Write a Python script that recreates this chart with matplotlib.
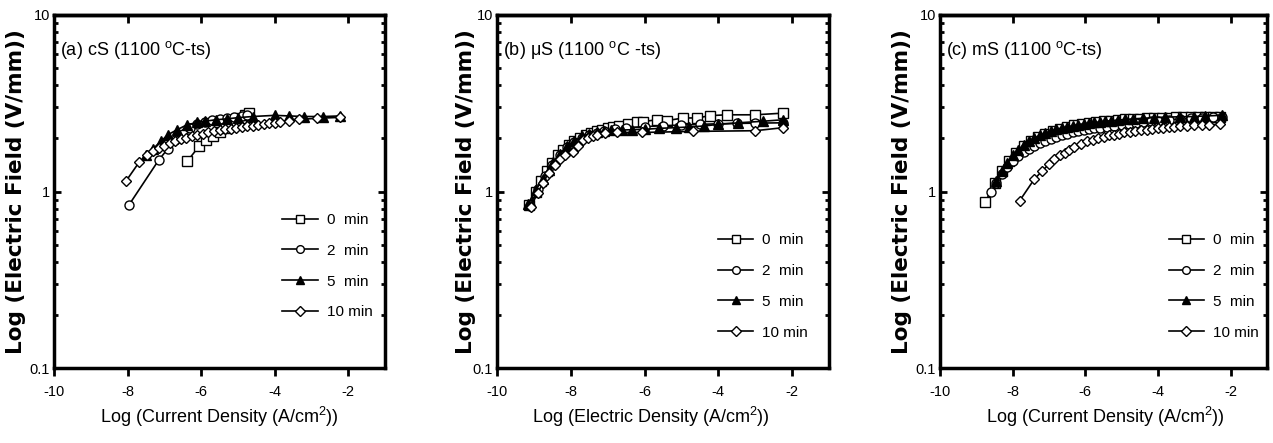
import numpy as np
import matplotlib
matplotlib.use('Agg')
import matplotlib.pyplot as plt
from matplotlib.ticker import NullFormatter

plt.rcParams['font.family'] = ['Liberation Sans', 'DejaVu Sans']
plt.rcParams['mathtext.fontset'] = 'custom'
plt.rcParams['mathtext.rm'] = 'Liberation Sans'
plt.rcParams['mathtext.it'] = 'Liberation Sans'

# ---- data: x = log current density, y = electric field (V/mm) ----
labels = ['0  min', '2  min', '5  min', '10 min']

# (a) cS
a_x0 = [-6.38, -6.06, -5.87, -5.67, -5.5, -5.35, -5.2, -5.05, -4.92, -4.8, -4.71]
a_y0 = [1.48, 1.80, 1.97, 2.06, 2.18, 2.30, 2.42, 2.52, 2.62, 2.72, 2.79]
a_x2 = [-7.96, -7.15, -6.9, -6.7, -6.5, -6.3, -6.1, -5.9, -5.7, -5.5, -5.3, -5.1, -4.9, -4.75]
a_y2 = [0.84, 1.51, 1.75, 1.95, 2.12, 2.28, 2.40, 2.48, 2.53, 2.57, 2.60, 2.63, 2.67, 2.70]
a_x5 = [-7.5, -7.3, -7.1, -6.9, -6.65, -6.38, -6.1, -5.9, -5.6, -5.3, -5.0, -4.6, -4.0, -3.6,
        -3.2, -2.68, -2.22]
a_y5 = [1.60, 1.75, 1.92, 2.10, 2.24, 2.39, 2.46, 2.50, 2.55, 2.58, 2.62, 2.66, 2.70, 2.68,
        2.66, 2.66, 2.68]
a_x10 = [-8.05, -7.69, -7.48, -7.3, -7.15, -7.0, -6.85, -6.7, -6.55, -6.4, -6.25, -6.1, -5.95,
         -5.8, -5.65, -5.5, -5.35, -5.2, -5.05, -4.9, -4.75, -4.6, -4.45, -4.3, -4.15, -4.0,
         -3.85, -3.6, -3.35, -2.84, -2.21]
a_y10 = [1.14, 1.46, 1.62, 1.70, 1.76, 1.82, 1.88, 1.93, 1.98, 2.02, 2.06, 2.10, 2.13, 2.16,
         2.19, 2.22, 2.25, 2.27, 2.30, 2.32, 2.34, 2.36, 2.39, 2.41, 2.43, 2.45, 2.48, 2.52,
         2.56, 2.60, 2.63]

# (b) muS
b_x0 = [-9.12, -8.95, -8.8, -8.65, -8.5, -8.35, -8.2, -8.05, -7.9, -7.75, -7.6, -7.45, -7.3,
        -7.15, -7.0, -6.85, -6.7, -6.45, -6.2, -6.04, -5.66, -5.4, -4.95, -4.57, -4.23, -3.77,
        -3.0, -2.24]
b_y0 = [0.84, 1.00, 1.15, 1.30, 1.45, 1.60, 1.72, 1.84, 1.93, 2.01, 2.08, 2.14, 2.19, 2.24,
        2.28, 2.32, 2.35, 2.42, 2.46, 2.49, 2.55, 2.52, 2.61, 2.61, 2.69, 2.72, 2.72, 2.78]
b_x2 = [-9.1, -8.9, -8.7, -8.5, -8.3, -8.1, -7.9, -7.7, -7.5, -7.3, -7.1, -6.8, -6.5, -6.0,
        -5.5, -5.0, -4.5, -4.0, -3.5, -3.0, -2.24]
b_y2 = [0.83, 1.03, 1.22, 1.42, 1.62, 1.78, 1.90, 2.00, 2.08, 2.14, 2.20, 2.26, 2.30, 2.33,
        2.36, 2.38, 2.40, 2.42, 2.43, 2.44, 2.45]
b_x5 = [-9.16, -8.95, -8.76, -8.6, -8.48, -8.3, -8.1, -7.9, -7.7, -7.5, -7.3, -7.1, -6.9,
        -6.6, -6.33, -6.0, -5.6, -5.15, -4.8, -4.4, -4.0, -3.46, -2.8, -2.24]
b_y5 = [0.85, 1.02, 1.17, 1.32, 1.46, 1.64, 1.80, 1.93, 2.05, 2.12, 2.17, 2.20, 2.22, 2.23,
        2.24, 2.25, 2.28, 2.30, 2.32, 2.35, 2.40, 2.45, 2.50, 2.55]
b_x10 = [-9.08, -8.9, -8.75, -8.6, -8.43, -8.3, -8.15, -7.94, -7.8, -7.67, -7.53, -7.4, -7.28,
         -7.07, -6.75, -6.07, -4.7, -3.0, -2.24]
b_y10 = [0.82, 0.98, 1.12, 1.28, 1.42, 1.52, 1.60, 1.68, 1.82, 1.97, 2.02, 2.06, 2.09, 2.14,
         2.16, 2.16, 2.19, 2.21, 2.30]

# (c) mS
c_x0 = [-8.75, -8.5, -8.3, -8.1, -7.9, -7.7, -7.5, -7.3, -7.1, -6.9, -6.7, -6.5, -6.3, -6.1,
        -5.9, -5.7, -5.5, -5.3, -5.1, -4.9, -4.7, -4.5, -4.3, -4.1, -3.9, -3.7, -3.5, -3.3,
        -3.1, -2.9, -2.7, -2.5, -2.28]
c_y0 = [0.87, 1.12, 1.30, 1.48, 1.65, 1.80, 1.93, 2.03, 2.12, 2.20, 2.27, 2.32, 2.37, 2.41,
        2.44, 2.47, 2.50, 2.52, 2.54, 2.56, 2.58, 2.59, 2.60, 2.61, 2.62, 2.62, 2.63, 2.64,
        2.64, 2.65, 2.65, 2.66, 2.66]
c_x2 = [-8.6, -8.45, -8.3, -8.15, -8.0, -7.85, -7.7, -7.55, -7.4, -7.25, -7.1, -6.95, -6.8,
        -6.65, -6.5, -6.35, -6.2, -6.05, -5.9, -5.75, -5.6, -5.4, -5.2, -5.0, -4.8, -4.6, -4.4,
        -4.2, -4.0, -3.7, -3.4, -3.1, -2.8, -2.5, -2.25]
c_y2 = [1.00, 1.12, 1.25, 1.37, 1.48, 1.58, 1.67, 1.75, 1.82, 1.88, 1.94, 1.99, 2.04, 2.08,
        2.12, 2.16, 2.19, 2.22, 2.25, 2.28, 2.30, 2.33, 2.36, 2.39, 2.42, 2.45, 2.47, 2.50,
        2.52, 2.55, 2.58, 2.60, 2.62, 2.63, 2.64]
c_x5 = [-8.46, -8.3, -8.15, -8.0, -7.85, -7.7, -7.55, -7.4, -7.25, -7.1, -6.95, -6.8, -6.65,
        -6.5, -6.35, -6.2, -6.05, -5.9, -5.75, -5.6, -5.45, -5.3, -5.1, -4.9, -4.7, -4.4, -4.1,
        -3.8, -3.4, -3.0, -2.7, -2.25]
c_y5 = [1.14, 1.30, 1.45, 1.60, 1.72, 1.84, 1.93, 2.01, 2.08, 2.14, 2.20, 2.25, 2.29, 2.33,
        2.36, 2.39, 2.42, 2.44, 2.46, 2.48, 2.50, 2.52, 2.54, 2.56, 2.58, 2.60, 2.62, 2.64,
        2.65, 2.66, 2.68, 2.70]
c_x10 = [-7.81, -7.41, -7.2, -7.0, -6.85, -6.7, -6.57, -6.45, -6.3, -6.12, -5.95, -5.8, -5.65,
         -5.5, -5.35, -5.22, -5.08, -4.93, -4.78, -4.62, -4.46, -4.31, -4.16, -4.0, -3.85, -3.7,
         -3.55, -3.4, -3.2, -3.0, -2.8, -2.6, -2.28]
c_y10 = [0.885, 1.17, 1.30, 1.43, 1.52, 1.60, 1.66, 1.72, 1.78, 1.86, 1.92, 1.97, 2.01, 2.04,
         2.08, 2.10, 2.13, 2.16, 2.18, 2.20, 2.22, 2.24, 2.26, 2.28, 2.30, 2.31, 2.33, 2.34,
         2.35, 2.37, 2.38, 2.39, 2.40]

panels = [
    dict(left=54, right=385, tag='(a) cS (1100 $^{\\mathrm{o}}$C-ts)',
         xlabel='Log (Current Density (A/cm$^{\\mathrm{2}}$))', xlab_x=0.5, ylab_x=-0.084,
         leg=(0.69, 0.439),
         series=[(a_x0, a_y0), (a_x2, a_y2), (a_x5, a_y5), (a_x10, a_y10)]),
    dict(left=497, right=829, tag='(b) \u03bcS (1100 $^{\\mathrm{o}}$C -ts)',
         xlabel='Log (Electric Density (A/cm$^{\\mathrm{2}}$))', xlab_x=0.464, ylab_x=-0.063,
         leg=(0.666, 0.382),
         series=[(b_x0, b_y0), (b_x2, b_y2), (b_x5, b_y5), (b_x10, b_y10)]),
    dict(left=940, right=1267, tag='(c) mS (1100 $^{\\mathrm{o}}$C-ts)',
         xlabel='Log (Current Density (A/cm$^{\\mathrm{2}}$))', xlab_x=0.505, ylab_x=-0.086,
         leg=(0.70, 0.382),
         series=[(c_x0, c_y0), (c_x2, c_y2), (c_x5, c_y5), (c_x10, c_y10)]),
]

styles = [dict(marker='s', mfc='white'), dict(marker='o', mfc='white'),
          dict(marker='^', mfc='black'), dict(marker='D', mfc='white')]

W, H = 1273, 443
fig = plt.figure(figsize=(W / 100, H / 100), dpi=100)
top, bottom = 15, 368

for p in panels:
    ax = fig.add_axes([p['left'] / W, (H - bottom) / H,
                       (p['right'] - p['left']) / W, (bottom - top) / H])
    for (x, y), st, lab in zip(p['series'], styles, labels):
        ms = 5.5 if st['marker'] == 'D' else 6.5
        ax.plot(x, y, color='black', lw=1.2, marker=st['marker'], mfc=st['mfc'],
                mec='black', mew=1.0, ms=ms, label=lab)
    ax.set_yscale('log')
    ax.set_xlim(-10, -1)
    ax.set_ylim(0.1, 10)
    ax.set_xticks([-10, -8, -6, -4, -2])
    ax.set_xticklabels(['-10', '-8', '-6', '-4', '-2'], fontsize=10.5)
    ax.set_yticks([0.1, 1, 10])
    ax.set_yticklabels(['0.1', '1', '10'], fontsize=10.5)
    ax.yaxis.set_minor_formatter(NullFormatter())
    ax.tick_params(axis='x', which='major', direction='out', length=6, width=2, pad=6)
    ax.tick_params(axis='y', which='major', direction='in', length=5, width=2, pad=3,
                   left=True, right=True)
    ax.tick_params(axis='y', which='minor', direction='in', length=3, width=2,
                   left=True, right=True)
    for s in ax.spines.values():
        s.set_linewidth(2.5)
    sec = ax.secondary_xaxis('top')
    sec.set_xticks([-8, -6, -4, -2])
    sec.tick_params(direction='in', length=6, width=2, labeltop=False)
    sec.spines['top'].set_linewidth(2.5)

    ax.set_xlabel(p['xlabel'], fontsize=13)
    ax.xaxis.set_label_coords(p['xlab_x'], -0.105)
    ax.set_ylabel('Log (Electric Field (V/mm))', fontsize=15.5, family='DejaVu Sans',
                  fontweight='semibold')
    ax.yaxis.set_label_coords(p['ylab_x'], 0.5)

    ax.text(0.018, 0.90, p['tag'], transform=ax.transAxes, fontsize=13,
            ha='left', va='center')

    ax.legend(loc='upper left', bbox_to_anchor=p['leg'], frameon=False, fontsize=11,
              handlelength=2.3, handletextpad=0.6, labelspacing=1.1, borderpad=0,
              borderaxespad=0, markerscale=0.85)

fig.savefig('out.png', dpi=100)
